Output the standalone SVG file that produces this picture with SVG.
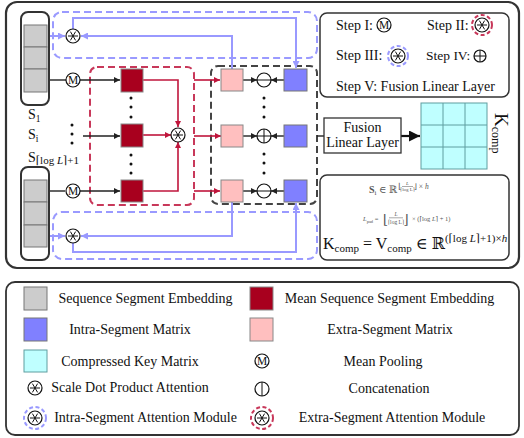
<svg xmlns="http://www.w3.org/2000/svg" xmlns:xlink="http://www.w3.org/1999/xlink" width="524" height="438" viewBox="0 0 524 438">
<style>
text{font-family:"Liberation Serif","DejaVu Serif",serif;fill:#111}
.frame{fill:#fff;stroke:#333;stroke-width:2.2}
.box{fill:#fff;stroke:#333;stroke-width:1.5}
.cap{fill:#fff;stroke:#333;stroke-width:2}
.gray{fill:#cccccc;stroke:#777;stroke-width:1}
.dred{fill:#a8001e;stroke:#888;stroke-width:1}
.pink{fill:#ffbfbf;stroke:#888;stroke-width:1}
.blue{fill:#8080ff;stroke:#777;stroke-width:1}
.cyan{fill:#bfffff;stroke:#5f9ea0;stroke-width:1}
.dashB{fill:none;stroke:#9a9aff;stroke-width:2;stroke-dasharray:7 4}
.dashR{fill:none;stroke:#c8385a;stroke-width:2;stroke-dasharray:7 4}
.dashK{fill:none;stroke:#444;stroke-width:2;stroke-dasharray:7 4}
.lk{fill:none;stroke:#222;stroke-width:1.4}
.lr{fill:none;stroke:#c0163c;stroke-width:1.6}
.lb{fill:none;stroke:#9999ff;stroke-width:2}
.op{fill:#fff;stroke:#111;stroke-width:1.2}
.opl{fill:none;stroke:#111;stroke-width:1}
.dot{fill:#111}
.lg{font-size:14px}
</style>
<defs>
<marker id="ak" viewBox="0 0 6 6" refX="6" refY="3" markerWidth="6" markerHeight="6" markerUnits="userSpaceOnUse" orient="auto"><path d="M0,0L6,3L0,6z" fill="#222"/></marker>
<marker id="ar" viewBox="0 0 6 6" refX="6" refY="3" markerWidth="6" markerHeight="6" markerUnits="userSpaceOnUse" orient="auto"><path d="M0,0L6,3L0,6z" fill="#c0163c"/></marker>
<marker id="ab" viewBox="0 0 6 6" refX="6" refY="3" markerWidth="7" markerHeight="7" markerUnits="userSpaceOnUse" orient="auto"><path d="M0,0L6,3L0,6z" fill="#9999ff"/></marker>
<marker id="abig" viewBox="0 0 10 10" refX="10" refY="5" markerWidth="11" markerHeight="11" markerUnits="userSpaceOnUse" orient="auto"><path d="M0,0L10,5L0,10z" fill="#111"/></marker>
<g id="sdpa"><circle r="7" class="op"/><path d="M-5,0H5M-2.6,-4.4L2.6,4.4M2.6,-4.4L-2.6,4.4" class="opl"/></g>
<g id="mp"><circle r="7" class="op"/><text y="4" text-anchor="middle" font-size="11.5">M</text></g>
<g id="plus"><circle r="7" class="op"/><path d="M-7,0H7M0,-7V7" class="opl"/></g>
<g id="plus-s"><circle r="6" class="op"/><path d="M-6,0H6M0,-6V6" class="opl"/></g>
<g id="minus"><circle r="7" class="op"/><path d="M-7,0H7" class="opl"/></g>
<g id="concat"><circle r="7" class="op"/><path d="M0,-7V7" class="opl"/></g>
</defs>

<rect id="main-frame" x="6" y="2" width="513" height="266" rx="11" class="frame"/>

<g id="intra-top"><rect x="53" y="12" width="264" height="46" rx="9" class="dashB"/></g>
<g id="intra-bottom"><rect x="53" y="212" width="264" height="47" rx="9" class="dashB"/></g>
<g id="extra-module"><rect x="90" y="67" width="104" height="138" rx="7" class="dashR"/></g>
<g id="combine-module"><rect x="211" y="66" width="106" height="138" rx="7" class="dashK"/></g>

<g id="connectors">
<path d="M49,36H65" class="lb" marker-end="url(#ab)"/>
<path d="M232,69V36H81" class="lb" marker-end="url(#ab)"/>
<path d="M73,29V18H296V68" class="lb" marker-end="url(#ab)"/>
<path d="M49,236H65" class="lb" marker-end="url(#ab)"/>
<path d="M232,202V236H81" class="lb" marker-end="url(#ab)"/>
<path d="M73,243V252H296V203" class="lb" marker-end="url(#ab)"/>
<path d="M49,80H66" class="lk"/>
<path d="M80,80H120" class="lk" marker-end="url(#ak)"/>
<path d="M83,136H120" class="lk" marker-end="url(#ak)"/>
<path d="M49,191H65" class="lk"/>
<path d="M80,191H120" class="lk" marker-end="url(#ak)"/>
<path d="M143,80H178V127" class="lr" marker-end="url(#ar)"/>
<path d="M143,135H171" class="lr" marker-end="url(#ar)"/>
<path d="M143,191H178V142" class="lr" marker-end="url(#ar)"/>
<path d="M194,80H220" class="lr" marker-end="url(#ar)"/>
<path d="M194,136H221" class="lr" marker-end="url(#ar)"/>
<path d="M194,191H220" class="lr" marker-end="url(#ar)"/>
<path d="M243,80H257" class="lk" marker-end="url(#ak)"/>
<path d="M284,80H271" class="lk" marker-end="url(#ak)"/>
<path d="M243,136H257" class="lk" marker-end="url(#ak)"/>
<path d="M284,136H271" class="lk" marker-end="url(#ak)"/>
<path d="M243,191H257" class="lk" marker-end="url(#ak)"/>
<path d="M284,191H271" class="lk" marker-end="url(#ak)"/>
<path d="M317,136H324" class="lk"/>
<path d="M401,136H420" fill="none" stroke="#111" stroke-width="2.2" marker-end="url(#abig)"/>
</g>

<g id="seg-first">
<rect x="21" y="12" width="28" height="93" rx="7" class="cap"/>
<rect x="24" y="25" width="23" height="22" class="gray"/>
<rect x="24" y="47" width="23" height="22" class="gray"/>
<rect x="24" y="69" width="23" height="23" class="gray"/>
</g>
<g id="seg-last">
<rect x="21" y="167" width="28" height="93" rx="7" class="cap"/>
<rect x="24" y="180" width="23" height="22" class="gray"/>
<rect x="24" y="202" width="23" height="23" class="gray"/>
<rect x="24" y="225" width="23" height="22" class="gray"/>
</g>
<g id="seg-labels">
<text x="28" y="119" font-size="14">S<tspan font-size="9.5" dy="3">1</tspan></text>
<text x="28" y="139" font-size="14">S<tspan font-size="9.5" dy="3">i</tspan></text>
<text x="28" y="162" font-size="14">S<tspan font-size="11" dy="1.5">⌈log <tspan font-style="italic">L</tspan>⌉+1</tspan></text>
<circle cx="72" cy="125" r="1.5" class="dot"/><circle cx="72" cy="134" r="1.5" class="dot"/><circle cx="72" cy="143" r="1.5" class="dot"/>
</g>

<g id="attn-top"><use href="#sdpa" x="73" y="36"/></g>
<g id="attn-bottom"><use href="#sdpa" x="73" y="236"/></g>
<g id="pool-top"><use href="#mp" x="73" y="80"/></g>
<g id="pool-bottom"><use href="#mp" x="73" y="191"/></g>

<g id="mean-top"><rect x="121" y="69" width="22" height="23" class="dred"/></g>
<g id="mean-mid"><rect x="121" y="124" width="22" height="23" class="dred"/></g>
<g id="mean-bottom"><rect x="121" y="180" width="22" height="22" class="dred"/></g>
<g id="mean-dots">
<circle cx="131" cy="98" r="1.5" class="dot"/><circle cx="131" cy="107" r="1.5" class="dot"/><circle cx="131" cy="117" r="1.5" class="dot"/>
<circle cx="131" cy="155" r="1.5" class="dot"/><circle cx="131" cy="164" r="1.5" class="dot"/><circle cx="131" cy="173" r="1.5" class="dot"/>
</g>
<g id="attn-extra"><use href="#sdpa" x="178" y="135"/></g>

<g id="extra-top"><rect x="221" y="69" width="22" height="22" class="pink"/></g>
<g id="extra-mid"><rect x="221" y="125" width="22" height="22" class="pink"/></g>
<g id="extra-bottom"><rect x="221" y="180" width="22" height="22" class="pink"/></g>
<g id="op-top"><use href="#minus" x="264" y="80"/></g>
<g id="op-mid"><use href="#plus" x="264" y="136"/></g>
<g id="op-bottom"><use href="#minus" x="264" y="191"/></g>
<g id="intra-sq-top"><rect x="284" y="69" width="23" height="22" class="blue"/></g>
<g id="intra-sq-mid"><rect x="284" y="125" width="23" height="22" class="blue"/></g>
<g id="intra-sq-bottom"><rect x="284" y="180" width="23" height="22" class="blue"/></g>
<g id="op-dots">
<circle cx="264" cy="98" r="1.5" class="dot"/><circle cx="264" cy="107" r="1.5" class="dot"/><circle cx="264" cy="117" r="1.5" class="dot"/>
<circle cx="264" cy="154" r="1.5" class="dot"/><circle cx="264" cy="163" r="1.5" class="dot"/><circle cx="264" cy="173" r="1.5" class="dot"/>
</g>

<g id="fusion">
<rect x="324" y="118" width="77" height="35" fill="#fff" stroke="#333" stroke-width="1.3"/>
<text x="362.5" y="132" font-size="14" text-anchor="middle">Fusion</text>
<text x="362.5" y="147" font-size="14" text-anchor="middle">Linear Layer</text>
</g>

<g id="kcomp">
<rect x="421" y="103" width="66" height="66" class="cyan"/>
<path d="M443,103V169M465,103V169M421,125H487M421,147H487" fill="none" stroke="#5f9ea0" stroke-width="1"/>
<text transform="translate(495,113) rotate(90)" font-size="19">K<tspan font-size="12" dy="3">comp</tspan></text>
</g>

<g id="steps">
<rect x="320" y="13" width="189" height="84" rx="7" class="box"/>
<text x="336" y="30" class="lg">Step I:</text>
<use href="#mp" x="384" y="25"/>
<text x="427" y="30" class="lg">Step II:</text>
<circle cx="482" cy="25" r="10" class="dashR" style="stroke-dasharray:4 2.5"/>
<use href="#sdpa" x="482" y="25"/>
<text x="336" y="60" class="lg">Step III:</text>
<circle cx="398" cy="56" r="10" class="dashB" style="stroke-dasharray:4 2.5"/>
<use href="#sdpa" x="398" y="56"/>
<text x="426" y="60" class="lg" style="font-size:13.5px">Step IV:</text>
<use href="#plus-s" x="480" y="56"/>
<text x="336" y="91" class="lg">Step V: Fusion Linear Layer</text>
</g>

<g id="formulas">
<rect x="320" y="175" width="189" height="85" rx="7" class="box"/>
<text x="369" y="193" font-size="10" style="fill:#555"><tspan font-weight="bold">S</tspan><tspan font-size="7" dy="2">i</tspan><tspan dy="-2"> ∈ ℝ</tspan></text>
<text x="398" y="189" font-size="8" style="fill:#555">⌊</text>
<text x="407.5" y="185" font-size="5" font-style="italic" text-anchor="middle" style="fill:#555">L</text>
<path d="M402,186.5H413" stroke="#555" stroke-width="0.5"/>
<text x="407.5" y="191" font-size="5" text-anchor="middle" style="fill:#555">⌈log L⌉</text>
<text x="414" y="189" font-size="7.5" style="fill:#555">⌋ × <tspan font-style="italic">h</tspan></text>
<text x="363" y="221" font-size="6.5" style="fill:#555"><tspan font-style="italic">L</tspan><tspan font-size="4.5" dy="1.5">pad</tspan><tspan dy="-1.5"> =</tspan></text>
<text x="383" y="223.5" font-size="13" style="fill:#555">⌊</text>
<text x="396" y="216" font-size="5.5" font-style="italic" text-anchor="middle" style="fill:#555">L</text>
<path d="M389,217.8H403" stroke="#555" stroke-width="0.5"/>
<text x="396" y="224" font-size="5.5" text-anchor="middle" style="fill:#555">⌈log L⌉</text>
<text x="403.5" y="223.5" font-size="13" style="fill:#555">⌋</text>
<text x="412" y="221" font-size="6.5" style="fill:#555">× (⌈log <tspan font-style="italic">L</tspan>⌉ + 1)</text>
<text x="323" y="249" font-size="16">K<tspan font-size="11" dy="3">comp</tspan><tspan dy="-3"> = V</tspan><tspan font-size="11" dy="3">comp</tspan><tspan dy="-3"> ∈ ℝ</tspan><tspan font-size="11" dy="-7">(⌈log </tspan><tspan font-size="11" font-style="italic">L</tspan><tspan font-size="11">⌉+1)×</tspan><tspan font-size="11" font-style="italic">h</tspan></text>
</g>

<g id="legend">
<rect x="6" y="282" width="513" height="153" rx="9" class="box" style="stroke-width:1.8"/>
<rect x="24" y="287" width="23" height="23" class="gray"/>
<text x="145.5" y="303" class="lg" text-anchor="middle">Sequence Segment Embedding</text>
<rect x="24" y="318" width="23" height="23" class="blue"/>
<text x="130" y="334" class="lg" text-anchor="middle">Intra-Segment Matrix</text>
<rect x="24" y="350" width="23" height="22" class="cyan"/>
<text x="130" y="366" class="lg" text-anchor="middle">Compressed Key Matrix</text>
<use href="#sdpa" x="35" y="388"/>
<text x="130" y="392" class="lg" text-anchor="middle">Scale Dot Product Attention</text>
<circle cx="35" cy="418" r="11" class="dashB" style="stroke-dasharray:4 2.5"/>
<use href="#sdpa" x="35" y="418"/>
<text x="145.5" y="422" class="lg" text-anchor="middle">Intra-Segment Attention Module</text>
<rect x="250" y="287" width="23" height="23" class="dred"/>
<text x="389.5" y="303" class="lg" text-anchor="middle">Mean Sequence Segment Embedding</text>
<rect x="250" y="318" width="23" height="23" class="pink"/>
<text x="390" y="334" class="lg" text-anchor="middle">Extra-Segment Matrix</text>
<use href="#mp" x="262" y="361"/>
<text x="383" y="366" class="lg" text-anchor="middle">Mean Pooling</text>
<use href="#concat" x="262" y="389"/>
<text x="389" y="393" class="lg" text-anchor="middle">Concatenation</text>
<circle cx="262" cy="418" r="11" class="dashR" style="stroke-dasharray:4 2.5"/>
<use href="#sdpa" x="262" y="418"/>
<text x="392" y="422" class="lg" text-anchor="middle">Extra-Segment Attention Module</text>
</g>
</svg>
